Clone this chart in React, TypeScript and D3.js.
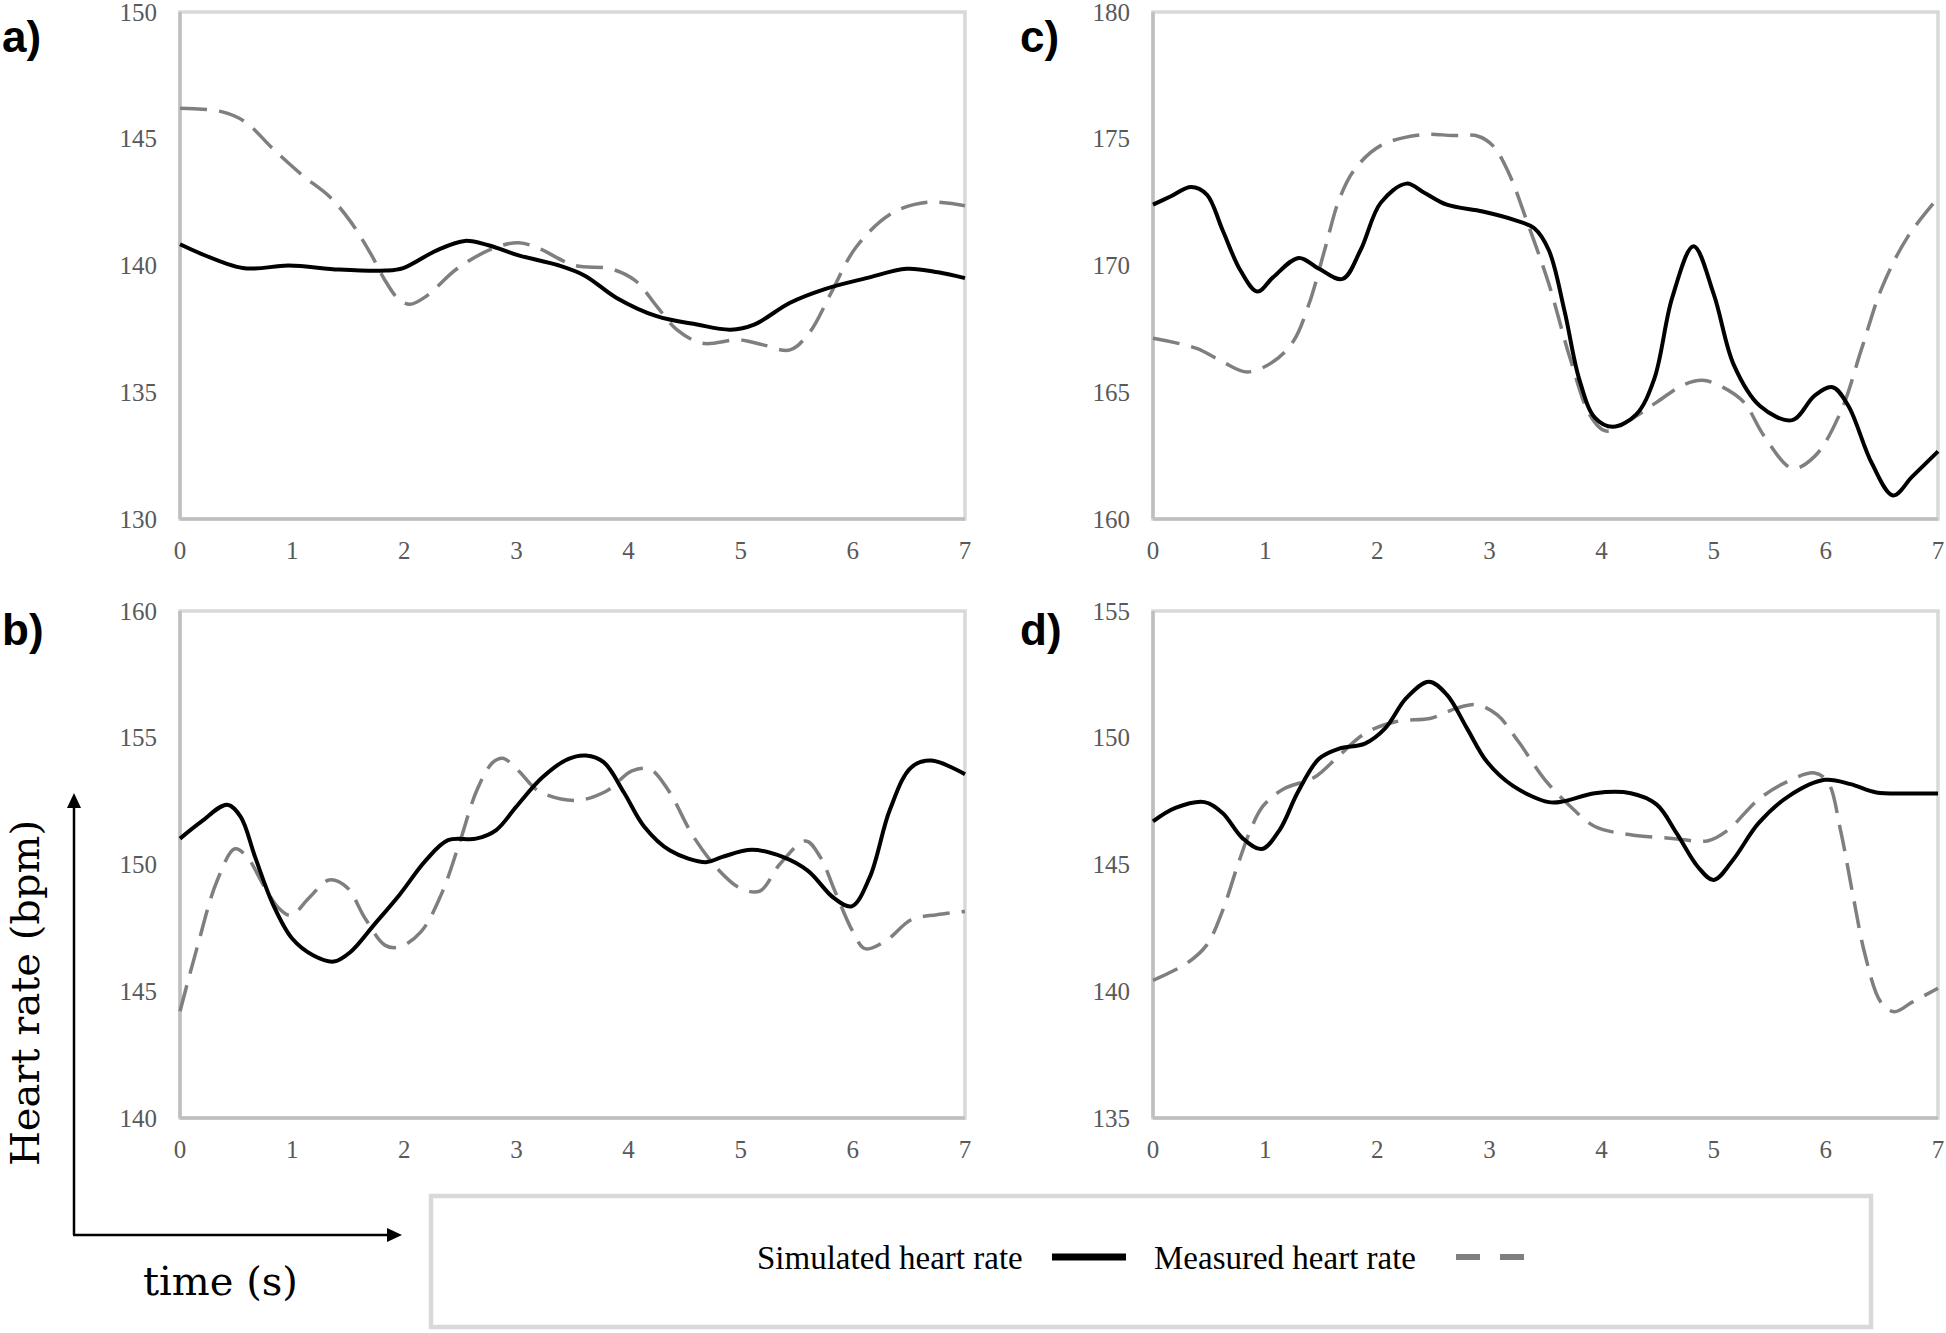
import React from "react";
import * as d3 from "d3";

// ---------- data (time in s, heart rate in bpm) ----------
const xTicks = [0, 1, 2, 3, 4, 5, 6, 7];
const panelLabels = ["a)", "b)", "c)", "d)"];
const yDomainA = [130, 150];
const yDomainB = [140, 160];
const yDomainC = [160, 180];
const yDomainD = [135, 155];

const simA: [number, number][] = [
  [0, 140.84], [0.56, 139.9], [0.97, 140.0], [1.42, 139.84], [1.83, 139.8], [1.99, 139.9],
  [2.29, 140.6], [2.54, 140.97], [2.75, 140.8], [3.02, 140.4], [3.38, 140.0], [3.61, 139.6],
  [3.89, 138.73], [4.25, 138.0], [4.61, 137.67], [4.91, 137.47], [5.12, 137.67], [5.44, 138.53],
  [5.75, 139.07], [6.12, 139.5], [6.48, 139.87], [6.76, 139.73], [7, 139.5],
];
const measA: [number, number][] = [
  [0, 146.2], [0.37, 146.07], [0.58, 145.67], [0.83, 144.6], [1.1, 143.53], [1.33, 142.73],
  [1.51, 141.8], [1.7, 140.47], [1.83, 139.4], [1.95, 138.67], [2.05, 138.47], [2.2, 138.8],
  [2.47, 139.87], [2.79, 140.67], [3.02, 140.9], [3.2, 140.67], [3.52, 140.0], [3.84, 139.87],
  [4.06, 139.4], [4.25, 138.4], [4.43, 137.47], [4.66, 136.93], [4.98, 137.07], [5.2, 136.87],
  [5.44, 136.67], [5.62, 137.4], [5.8, 138.87], [6.03, 140.73], [6.35, 142.07], [6.67, 142.5],
  [7, 142.36],
];
const simB: [number, number][] = [
  [0, 151.02], [0.19, 151.69], [0.42, 152.36], [0.54, 151.89], [0.67, 150.29], [0.83, 148.42],
  [1.0, 147.08], [1.19, 146.41], [1.37, 146.17], [1.52, 146.55], [1.73, 147.62], [1.96, 148.82],
  [2.19, 150.15], [2.39, 150.96], [2.64, 151.02], [2.82, 151.36], [3.0, 152.29], [3.23, 153.43],
  [3.46, 154.16], [3.62, 154.3], [3.78, 154.03], [3.96, 152.83], [4.14, 151.49], [4.37, 150.55],
  [4.69, 150.09], [4.83, 150.29], [5.1, 150.58], [5.38, 150.29], [5.6, 149.75], [5.83, 148.68],
  [5.99, 148.35], [6.15, 149.49], [6.33, 152.16], [6.52, 153.83], [6.7, 154.1], [7, 153.56],
];
const measB: [number, number][] = [
  [0, 144.21], [0.15, 146.68], [0.33, 149.35], [0.49, 150.62], [0.6, 150.29], [0.74, 149.22],
  [0.88, 148.28], [0.99, 147.99], [1.15, 148.68], [1.33, 149.39], [1.49, 149.09], [1.65, 147.88],
  [1.83, 146.81], [1.96, 146.75], [2.15, 147.35], [2.33, 148.82], [2.49, 150.82], [2.65, 152.96],
  [2.79, 154.03], [2.88, 154.19], [3.02, 153.69], [3.2, 152.89], [3.53, 152.53], [3.8, 152.89],
  [4.03, 153.69], [4.19, 153.76], [4.35, 152.96], [4.58, 151.09], [4.81, 149.75], [4.99, 149.08],
  [5.17, 148.95], [5.35, 150.02], [5.58, 150.93], [5.71, 150.29], [5.84, 148.95], [6.0, 147.35],
  [6.11, 146.68], [6.3, 147.01], [6.52, 147.82], [6.75, 148.02], [7, 148.15],
];
const simC: [number, number][] = [
  [0, 172.4], [0.16, 172.73], [0.34, 173.1], [0.48, 172.8], [0.62, 171.4], [0.78, 169.8],
  [0.93, 168.97], [1.07, 169.53], [1.3, 170.3], [1.48, 169.87], [1.69, 169.47], [1.85, 170.6],
  [2.03, 172.47], [2.26, 173.23], [2.42, 172.87], [2.62, 172.4], [2.94, 172.13], [3.22, 171.8],
  [3.4, 171.47], [3.53, 170.6], [3.67, 168.2], [3.8, 165.53], [3.94, 164.0], [4.1, 163.64],
  [4.31, 164.13], [4.47, 165.53], [4.63, 168.73], [4.82, 170.76], [5.0, 168.87], [5.18, 166.07],
  [5.41, 164.47], [5.7, 163.9], [5.9, 164.87], [6.06, 165.2], [6.2, 164.47], [6.41, 162.2],
  [6.6, 160.93], [6.77, 161.67], [7, 162.67],
];
const measC: [number, number][] = [
  [0, 167.13], [0.39, 166.73], [0.62, 166.2], [0.84, 165.8], [1.07, 166.2], [1.25, 167.0],
  [1.39, 168.47], [1.53, 170.6], [1.66, 172.6], [1.8, 173.8], [2.03, 174.73], [2.39, 175.16],
  [2.67, 175.13], [2.9, 175.1], [3.03, 174.73], [3.17, 173.67], [3.33, 171.8], [3.53, 169.27],
  [3.72, 166.33], [3.9, 164.07], [4.04, 163.47], [4.26, 163.93], [4.49, 164.6], [4.72, 165.27],
  [4.9, 165.47], [5.08, 165.2], [5.27, 164.6], [5.45, 163.27], [5.7, 162.0], [5.9, 162.47],
  [6.13, 164.2], [6.32, 166.73], [6.5, 169.13], [6.73, 171.13], [7, 172.67],
];
const simD: [number, number][] = [
  [0, 146.7], [0.2, 147.23], [0.46, 147.46], [0.62, 147.03], [0.8, 146.03], [0.97, 145.61],
  [1.13, 146.37], [1.29, 147.84], [1.48, 149.17], [1.66, 149.57], [1.89, 149.77], [2.07, 150.37],
  [2.26, 151.57], [2.46, 152.21], [2.62, 151.7], [2.8, 150.37], [2.98, 149.04], [3.21, 148.1],
  [3.53, 147.46], [3.67, 147.5], [3.94, 147.81], [4.26, 147.81], [4.49, 147.37], [4.67, 146.23],
  [4.86, 144.9], [5.0, 144.39], [5.17, 145.17], [5.4, 146.63], [5.67, 147.7], [5.99, 148.34],
  [6.22, 148.17], [6.45, 147.84], [6.77, 147.8], [7, 147.8],
];
const measD: [number, number][] = [
  [0, 140.43], [0.3, 141.1], [0.48, 141.83], [0.62, 143.17], [0.75, 144.9], [0.87, 146.37],
  [0.98, 147.3], [1.16, 147.97], [1.44, 148.44], [1.66, 149.3], [1.89, 150.17], [2.17, 150.64],
  [2.48, 150.77], [2.71, 151.17], [2.89, 151.3], [3.07, 150.9], [3.26, 149.84], [3.49, 148.37],
  [3.72, 147.3], [3.94, 146.5], [4.26, 146.17], [4.63, 146.03], [4.95, 145.94], [5.13, 146.37],
  [5.4, 147.57], [5.67, 148.3], [5.9, 148.61], [6.02, 148.24], [6.13, 146.37], [6.24, 143.83],
  [6.35, 141.43], [6.49, 139.57], [6.61, 139.19], [6.77, 139.57], [7, 140.12],
];
const legendLabels = ["Simulated heart rate", "Measured heart rate"];

// ---------- layout ----------
const W = 1946;
const H = 1333;
const TICK_FONT = "'Liberation Serif', 'Times New Roman', serif";
const LABEL_FONT = "'DejaVu Serif', serif";

type PanelSpec = {
  label: string;
  left: number;
  top: number;
  yDomain: number[];
  sim: [number, number][];
  meas: [number, number][];
  labelX: number;
  labelY: number;
};

const PW = 785;
const PH = 507;
const panels: PanelSpec[] = [
  { label: panelLabels[0], left: 180, top: 12, yDomain: yDomainA, sim: simA, meas: measA, labelX: 2, labelY: 52 },
  { label: panelLabels[1], left: 180, top: 611, yDomain: yDomainB, sim: simB, meas: measB, labelX: 2, labelY: 645 },
  { label: panelLabels[2], left: 1153, top: 12, yDomain: yDomainC, sim: simC, meas: measC, labelX: 1020, labelY: 52 },
  { label: panelLabels[3], left: 1153, top: 611, yDomain: yDomainD, sim: simD, meas: measD, labelX: 1020, labelY: 645 },
];

function Panel({ p }: { p: PanelSpec }) {
  const x = d3.scaleLinear().domain([0, 7]).range([p.left, p.left + PW]);
  const y = d3.scaleLinear().domain(p.yDomain).range([p.top + PH, p.top]);
  const line = d3
    .line<[number, number]>()
    .x((d) => x(d[0]))
    .y((d) => y(d[1]))
    .curve(d3.curveCatmullRom.alpha(0.5));
  const yTicks = d3.range(p.yDomain[0], p.yDomain[1] + 0.001, 5);
  return (
    <g>
      <text x={p.labelX} y={p.labelY} fontFamily="'Liberation Sans', Arial, sans-serif" fontWeight="bold" fontSize={44} fill="#000">
        {p.label}
      </text>
      <rect x={p.left} y={p.top} width={PW} height={PH} fill="#fff" stroke="#d9d9d9" strokeWidth={3.5} />
      <line x1={p.left} x2={p.left} y1={p.top} y2={p.top + PH} stroke="#bfbfbf" strokeWidth={3.5} />
      <line x1={p.left} x2={p.left + PW} y1={p.top + PH} y2={p.top + PH} stroke="#bfbfbf" strokeWidth={3.5} />
      {yTicks.map((t) => (
        <text key={"y" + t} x={p.left - 23} y={y(t)} dy="0.34em" textAnchor="end" fontFamily={TICK_FONT} fontSize={25} fill="#595959">
          {t}
        </text>
      ))}
      {xTicks.map((t) => (
        <text key={"x" + t} x={x(t)} y={p.top + PH + 31} dy="0.34em" textAnchor="middle" fontFamily={TICK_FONT} fontSize={25} fill="#595959">
          {t}
        </text>
      ))}
      <path d={line(p.meas) || ""} fill="none" stroke="#7f7f7f" strokeWidth={3.5} strokeDasharray="27 12" />
      <path d={line(p.sim) || ""} fill="none" stroke="#000" strokeWidth={4} />
    </g>
  );
}

export default function App() {
  return (
    <svg width={W} height={H} style={{ position: "absolute", left: 0, top: 0, background: "#fff" }}>
      <rect x={0} y={0} width={W} height={H} fill="#fff" />
      {panels.map((p) => (
        <Panel key={p.label} p={p} />
      ))}
      {/* axis hint arrows */}
      <line x1={74} y1={1235} x2={74} y2={806} stroke="#000" strokeWidth={2.5} />
      <path d="M74,793 L67,808 L81,808 Z" fill="#000" />
      <line x1={73} y1={1235} x2={389} y2={1235} stroke="#000" strokeWidth={2.5} />
      <path d="M402,1235 L387,1228 L387,1242 Z" fill="#000" />
      <text x={143} y={1295} fontFamily={LABEL_FONT} fontSize={40} fill="#000">
        time (s)
      </text>
      <text transform="translate(39,993) rotate(-90)" textAnchor="middle" fontFamily={LABEL_FONT} fontSize={40} fill="#000">
        Heart rate (bpm)
      </text>
      {/* legend */}
      <rect x={431} y={1196} width={1440} height={131} fill="#fff" stroke="#d9d9d9" strokeWidth={4.5} />
      <text x={757} y={1257} dy="0.35em" fontFamily={TICK_FONT} fontSize={33} fill="#000">
        {legendLabels[0]}
      </text>
      <line x1={1052} x2={1126} y1={1257} y2={1257} stroke="#000" strokeWidth={7} />
      <text x={1154} y={1257} dy="0.35em" fontFamily={TICK_FONT} fontSize={33} fill="#000">
        {legendLabels[1]}
      </text>
      <line x1={1456} x2={1526} y1={1257} y2={1257} stroke="#7f7f7f" strokeWidth={6} strokeDasharray="24 20" />
    </svg>
  );
}
